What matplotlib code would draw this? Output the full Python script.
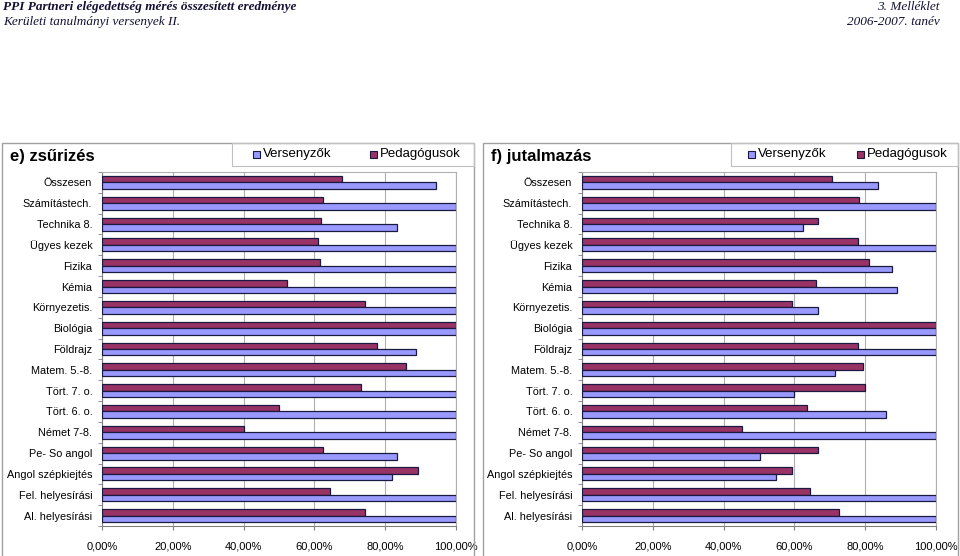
import matplotlib
matplotlib.use("Agg")
import matplotlib.pyplot as plt
from matplotlib.patches import Rectangle
import numpy as np

categories = ["Összesen", "Számítástech.", "Technika 8.", "Ügyes kezek", "Fizika", "Kémia",
              "Környezetis.", "Biológia", "Földrajz", "Matem. 5.-8.", "Tört. 7. o.", "Tört. 6. o.",
              "Német 7-8.", "Pe- So angol", "Angol szépkiejtés", "Fel. helyesírási", "Al. helyesírási"]

e_versenyzok = [94.4, 100, 83.2, 100, 100, 100, 100, 100, 88.8, 100, 100, 100, 100, 83.2, 81.8, 100, 100]
e_pedagogusok = [67.7, 62.3, 61.8, 60.9, 61.5, 52.3, 74.4, 100, 77.6, 85.8, 73.3, 50.1, 40.0, 62.3, 89.2, 64.3, 74.4]

f_versenyzok = [83.7, 100, 62.5, 100, 87.6, 89.0, 66.7, 100, 100, 71.4, 60.0, 85.9, 100, 50.2, 54.7, 100, 100]
f_pedagogusok = [70.6, 78.3, 66.8, 77.9, 81.0, 66.1, 59.2, 100, 77.9, 79.3, 80.0, 63.6, 45.2, 66.7, 59.2, 64.4, 72.7]

x_ticks = [0, 20, 40, 60, 80, 100]
x_labels = ["0,00%", "20,00%", "40,00%", "60,00%", "80,00%", "100,00%"]

series_names = ["Versenyzők", "Pedagógusok"]
titles = ["e) zsűrizés", "f) jutalmazás"]

C_V = "#9999FF"
C_P = "#993366"
EDGE = "#1a1a40"
GRID = "#b0b0b0"

W, H = 960, 556
fig = plt.figure(figsize=(9.6, 5.56), dpi=100)
fig.patch.set_facecolor("white")

def fx(px):
    return px / W

def fy(py):
    return 1 - py / H

serif = ["Liberation Serif", "DejaVu Serif"]
sans = ["Liberation Sans", "DejaVu Sans"]
hdr_col = "#111133"
fig.text(fx(3), fy(7), "PPI Partneri elégedettség mérés összesített eredménye", family=serif,
         style="italic", weight="bold", fontsize=9.5, va="center", ha="left", color=hdr_col)
fig.text(fx(3), fy(22), "Kerületi tanulmányi versenyek II.", family=serif,
         style="italic", fontsize=9.5, va="center", ha="left", color=hdr_col)
fig.text(fx(939), fy(7), "3. Melléklet", family=serif,
         style="italic", fontsize=9.5, va="center", ha="right", color=hdr_col)
fig.text(fx(940), fy(22), "2006-2007. tanév", family=serif,
         style="italic", fontsize=9.5, va="center", ha="right", color=hdr_col)

panels = [
    dict(box=(2, 143, 474, 560), ax_left=102, leg=(232, 474), leg_marks=(253, 370), title_x=10,
         vers=e_versenyzok, ped=e_pedagogusok, title=titles[0]),
    dict(box=(483, 143, 958, 560), ax_left=582, leg=(731, 958), leg_marks=(748, 857), title_x=491,
         vers=f_versenyzok, ped=f_pedagogusok, title=titles[1]),
]

n = len(categories)
ypos = np.arange(n)
bh = 0.31

for p in panels:
    x0, y0, x1, y1 = p["box"]
    fig.patches.append(Rectangle((fx(x0), fy(y1)), fx(x1 - x0), (y1 - y0) / H,
                                 transform=fig.transFigure, fill=False,
                                 edgecolor="#a0a0a0", linewidth=1.0))
    lx0, lx1 = p["leg"]
    fig.patches.append(Rectangle((fx(lx0), fy(166)), fx(lx1 - lx0), 23 / H,
                                 transform=fig.transFigure, fill=False,
                                 edgecolor="#c0c0c0", linewidth=0.8))
    fig.text(fx(p["title_x"]), fy(156), p["title"], family=sans, weight="bold",
             fontsize=12, va="center", ha="left")
    for sx, name, col in zip(p["leg_marks"], series_names, [C_V, C_P]):
        fig.patches.append(Rectangle((fx(sx), fy(158)), fx(7), 7 / H,
                                     transform=fig.transFigure, facecolor=col,
                                     edgecolor=EDGE, linewidth=0.8))
        fig.text(fx(sx + 10), fy(154), name, family=sans, fontsize=9.5,
                 va="center", ha="left")

    ax = fig.add_axes([fx(p["ax_left"]), fy(526), fx(354), 354 / H])
    ax.barh(ypos - bh / 2, p["ped"], height=bh, color=C_P, edgecolor=EDGE, linewidth=0.9, zorder=3)
    ax.barh(ypos + bh / 2, p["vers"], height=bh, color=C_V, edgecolor=EDGE, linewidth=0.9, zorder=3)
    ax.set_xlim(0, 100)
    ax.set_ylim(n - 0.5, -0.5)
    ax.set_xticks(x_ticks)
    ax.set_xticklabels(x_labels, family=sans, fontsize=8)
    ax.set_yticks(ypos)
    ax.set_yticklabels(categories, family=sans, fontsize=7.8)
    ax.set_yticks(np.arange(n + 1) - 0.5, minor=True)
    ax.tick_params(axis="y", which="major", length=0, pad=7)
    ax.tick_params(axis="y", which="minor", length=3, color="#808080")
    ax.tick_params(axis="x", which="major", length=3, color="#808080", pad=8)
    ax.grid(axis="x", color=GRID, linewidth=0.8, zorder=0)
    for s in ["top", "right"]:
        ax.spines[s].set_color(GRID)
    for s in ["left", "bottom"]:
        ax.spines[s].set_color("#808080")

fig.savefig("out.png", dpi=100)
